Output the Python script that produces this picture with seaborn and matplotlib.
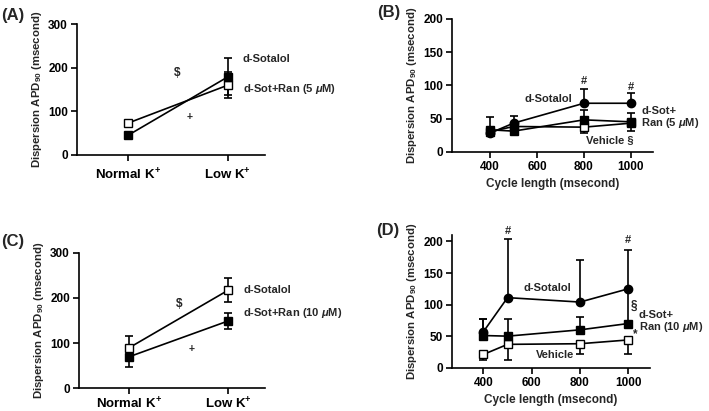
import numpy as np
import pandas as pd
import matplotlib
matplotlib.use("Agg")
import matplotlib.pyplot as plt
import seaborn as sns

# ---- data ----
conditions = ["Normal K$^{+}$", "Low K$^{+}$"]
cycle_length = [400, 500, 800, 1000]

# (A) d-Sotalol vs d-Sot+Ran (5 uM)
sot_A = [73, 160]
sot_A_err = [5, 29]
ran5_A = [45, 179]
ran5_A_err = [4, 42]

# (C) d-Sotalol vs d-Sot+Ran (10 uM)
sot_C = [90, 217]
sot_C_err = [25, 26]
ran10_C = [70, 149]
ran10_C_err = [22, 18]

# (B) cycle length, 5 uM
sot_B = [28, 43, 73, 73]
sot_B_up = [0, 11, 22, 15]
ran5_B = [33, 31, 48, 45]
ran5_B_up = [20, 0, 15, 14]
veh_B = [30, 38, 37, 43]
veh_B_dn = [0, 0, 9, 12]

# (D) cycle length, 10 uM
sot_D = [57, 111, 104, 125]
sot_D_up = [20, 93, 66, 61]
sot_D_dn = [0, 0, 0, 55]
ran10_D = [51, 50, 60, 70]
ran10_D_up = [26, 27, 20, 0]
veh_D = [21, 37, 38, 44]
veh_D_dn = [9, 24, 16, 23]

sns.set_style("ticks")
plt.rcParams['font.family'] = ['Liberation Sans', 'DejaVu Sans']
plt.rcParams['font.weight'] = 'bold'
plt.rcParams['axes.labelweight'] = 'bold'
plt.rcParams['mathtext.fontset'] = 'custom'
plt.rcParams['mathtext.rm'] = 'Liberation Sans:bold'
plt.rcParams['mathtext.bf'] = 'Liberation Sans:bold'
plt.rcParams['mathtext.it'] = 'Liberation Sans:bold:italic'
plt.rcParams['mathtext.default'] = 'bf'

LW = 1.2
MS = 6
TICK_FS = 8.5
LAB_FS = 8.2
NOTE_FS = 8
MU = r"$\mathit{\mu}$"
ylab = "Dispersion APD$_{90}$ (msecond)"


def style_axes(ax):
    sns.despine(ax=ax)
    for s in ['left', 'bottom']:
        ax.spines[s].set_linewidth(1.2)
        ax.spines[s].set_color('black')
    ax.tick_params(direction='out', length=4, width=1.2, labelsize=TICK_FS,
                   colors='black', pad=2.5)
    for lab in ax.get_xticklabels() + ax.get_yticklabels():
        lab.set_fontweight('bold')


def series(ax, x, y, marker, open_marker, lo=None, hi=None):
    df = pd.DataFrame({'x': x, 'y': y})
    if lo is not None or hi is not None:
        lo = lo if lo is not None else [0] * len(y)
        hi = hi if hi is not None else [0] * len(y)
        ax.errorbar(df['x'], df['y'], yerr=[lo, hi], fmt='none', ecolor='black',
                    elinewidth=LW, capsize=3, capthick=LW, zorder=2)
    sns.lineplot(data=df, x='x', y='y', ax=ax, color='black', linewidth=LW,
                 marker=marker, markersize=MS,
                 markerfacecolor='white' if open_marker else 'black',
                 markeredgecolor='black', markeredgewidth=1.0, zorder=3)


fig = plt.figure(figsize=(7.09, 4.11), dpi=100)

# ---------- (A) ----------
axA = fig.add_axes([0.1086, 0.6229, 0.265, 0.3187])
pos = [0, 1]
series(axA, pos, sot_A, 's', True, sot_A_err, sot_A_err)
series(axA, pos, ran5_A, 's', False, ran5_A_err, ran5_A_err)
axA.set_xlim(-0.51, 1.37)
axA.set_ylim(0, 300)
axA.set_yticks([0, 100, 200, 300])
axA.set_xticks(pos)
axA.set_xticklabels(conditions)
axA.set_xlabel("")
axA.set_ylabel(ylab, fontsize=LAB_FS, labelpad=3)
style_axes(axA)
axA.tick_params(axis='x', labelsize=9.5, pad=5)
axA.text(1.15, 220, "d-Sotalol", fontsize=NOTE_FS, va='center')
axA.text(1.15, 151, f"d-Sot+Ran (5 {MU}M)", fontsize=NOTE_FS, va='center')
axA.text(0.49, 188, "$", fontsize=8.5, ha='center', va='center')
axA.text(0.62, 87, "+", fontsize=7.5, ha='center', va='center')

# ---------- (C) ----------
axC = fig.add_axes([0.1114, 0.0552, 0.262, 0.33])
series(axC, pos, sot_C, 's', True, sot_C_err, sot_C_err)
series(axC, pos, ran10_C, 's', False, ran10_C_err, ran10_C_err)
axC.set_xlim(-0.51, 1.37)
axC.set_ylim(0, 300)
axC.set_yticks([0, 100, 200, 300])
axC.set_xticks(pos)
axC.set_xticklabels(conditions)
axC.set_xlabel("")
axC.set_ylabel(ylab, fontsize=LAB_FS, labelpad=3)
style_axes(axC)
axC.tick_params(axis='x', labelsize=9.5, pad=2)
axC.text(1.15, 217, "d-Sotalol", fontsize=NOTE_FS, va='center')
axC.text(1.15, 166, f"d-Sot+Ran (10 {MU}M)", fontsize=NOTE_FS, va='center')
axC.text(0.5, 186, "$", fontsize=8.5, ha='center', va='center')
axC.text(0.63, 88, "+", fontsize=7.5, ha='center', va='center')

# ---------- (B) ----------
axB = fig.add_axes([0.6375, 0.6309, 0.2835, 0.3229])
series(axB, cycle_length, veh_B, 's', True, veh_B_dn, None)
series(axB, cycle_length, ran5_B, 's', False, None, ran5_B_up)
series(axB, cycle_length, sot_B, 'o', False, None, sot_B_up)
axB.set_xlim(238, 1094)
axB.set_ylim(0, 200)
axB.set_xticks([400, 600, 800, 1000])
axB.set_yticks([0, 50, 100, 150, 200])
axB.set_xlabel("Cycle length (msecond)", fontsize=8.5, labelpad=4)
axB.set_ylabel(ylab, fontsize=LAB_FS, labelpad=3)
style_axes(axB)
axB.text(647, 79, "d-Sotalol", fontsize=NOTE_FS, ha='center', va='center')
axB.text(1045, 62, "d-Sot+", fontsize=NOTE_FS, va='center')
axB.text(1045, 43, f"Ran (5 {MU}M)", fontsize=NOTE_FS, va='center')
axB.text(912, 17, "Vehicle §", fontsize=NOTE_FS, ha='center', va='center')
axB.text(800, 106, "#", fontsize=NOTE_FS, ha='center', va='center')
axB.text(1000, 97, "#", fontsize=NOTE_FS, ha='center', va='center')

# ---------- (D) ----------
axD = fig.add_axes([0.6375, 0.1053, 0.2793, 0.3226])
series(axD, cycle_length, veh_D, 's', True, veh_D_dn, None)
series(axD, cycle_length, sot_D, 'o', False, sot_D_dn, sot_D_up)
series(axD, cycle_length, ran10_D, 's', False, None, ran10_D_up)
axD.set_xlim(270, 1090)
axD.set_ylim(0, 210)
axD.set_xticks([400, 600, 800, 1000])
axD.set_yticks([0, 50, 100, 150, 200])
axD.set_xlabel("Cycle length (msecond)", fontsize=8.5, labelpad=4)
axD.set_ylabel(ylab, fontsize=LAB_FS, labelpad=3)
style_axes(axD)
axD.text(666, 126, "d-Sotalol", fontsize=NOTE_FS, ha='center', va='center')
axD.text(1042, 84, "d-Sot+", fontsize=NOTE_FS, va='center')
axD.text(1045, 65, f"Ran (10 {MU}M)", fontsize=NOTE_FS, va='center')
axD.text(1024, 98, "§", fontsize=8.5, ha='center', va='center')
axD.text(1030, 53, "*", fontsize=8.5, ha='center', va='center')
axD.text(695, 20, "Vehicle", fontsize=NOTE_FS, ha='center', va='center')
axD.text(500, 216, "#", fontsize=NOTE_FS, ha='center', va='center')
axD.text(1000, 202, "#", fontsize=NOTE_FS, ha='center', va='center')

# panel letters
fig.text(0.002, 0.962, "(A)", fontsize=12, fontweight='bold', va='center')
fig.text(0.532, 0.970, "(B)", fontsize=12, fontweight='bold', va='center')
fig.text(0.002, 0.412, "(C)", fontsize=12, fontweight='bold', va='center')
fig.text(0.530, 0.44, "(D)", fontsize=12, fontweight='bold', va='center')

fig.savefig("out.png", dpi=100)
